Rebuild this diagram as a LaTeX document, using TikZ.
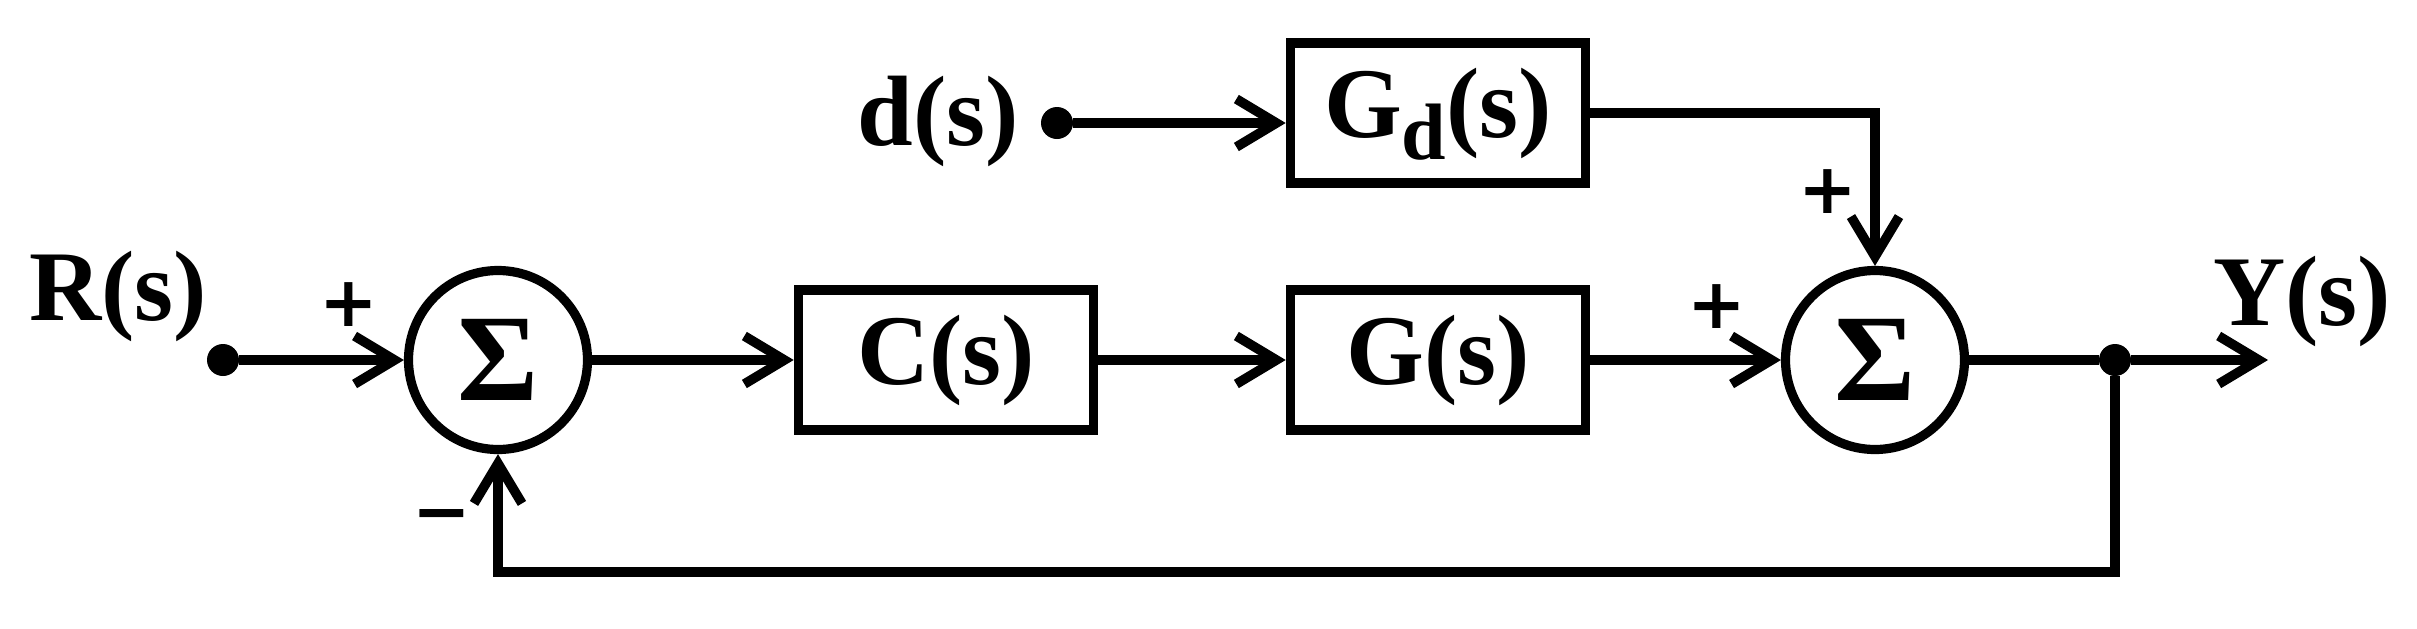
\documentclass[tikz,border=0pt]{standalone}
\usepackage{fontspec}
\newfontfamily\tnrb{LiberationSerif-Bold.ttf}
\newfontfamily\dvs{DejaVu Serif}
\newfontfamily\dvsans{DejaVu Sans}
\usetikzlibrary{arrows.meta}
\begin{document}
\begin{tikzpicture}[x=0.5pt,y=-0.5pt,
  blk/.style={draw, line width=4.8pt, minimum width=147.5pt, minimum height=70pt, inner sep=0pt, font=\fontsize{50pt}{60pt}\tnrb},
  sumnode/.style={draw, circle, line width=4.6pt, minimum size=89.5pt, inner sep=0pt, font=\fontsize{62pt}{70pt}\tnrb},
  lbl/.style={font=\fontsize{50pt}{60pt}\tnrb, inner sep=0pt},
  sgn/.style={font=\fontsize{35pt}{40pt}\dvsans\bfseries, inner sep=0pt},
  dotnode/.style={circle, fill, minimum size=16pt, inner sep=0pt},
  sig/.style={-{Straight Barb[length=20pt,width=24pt]}, line width=4.8pt},
  wire/.style={line width=4.8pt}]
\useasboundingbox (0,0) rectangle (2417,628);
% nodes
\node[lbl] (rlab) at (118,296) {R(s)};
\node[dotnode] (rdot) at (223,360) {};
\node[sumnode] (s1) at (498,360) {Σ};
\node[blk] (C) at (946,360) {C(s)};
\node[blk] (G) at (1438,360) {G(s)};
\node[blk] (Gd) at (1438,113) {G\raisebox{-11pt}[0pt][0pt]{\fontsize{40pt}{40pt}\selectfont d}(s)};
\node[lbl] (dlab) at (938,121) {d(s)};
\node[dotnode] (ddot) at (1057,123) {};
\node[sumnode] (s2) at (1875,360) {Σ};
\node[dotnode] (ydot) at (2115,360) {};
\coordinate (yend) at (2268,360);
\node[lbl] (ylab) at (2302,301) {Y(s)};
\coordinate (fbl) at (498,572);
\coordinate (gdcorner) at (1875,113);
% signs
\node[sgn] (p1) at (349,305) {+};
\node[sgn] (m1) at (442,523) {−};
\node[sgn] (p2) at (1828,192) {+};
\node[sgn] (p3) at (1717,307) {+};
% connectors
\draw[sig] (rdot) -- (s1);
\draw[sig] (s1) -- (C);
\draw[sig] (C) -- (G);
\draw[sig] (ddot) -- (ddot -| Gd.west);
\draw[sig] (Gd.east) -- (gdcorner) -- (s2.north);
\draw[sig] (G) -- (s2);
\draw[wire] (s2) -- (ydot);
\draw[sig] (ydot) -- (yend);
\draw[sig] (ydot) |- (fbl) -- (s1.south);
\end{tikzpicture}
\end{document}
